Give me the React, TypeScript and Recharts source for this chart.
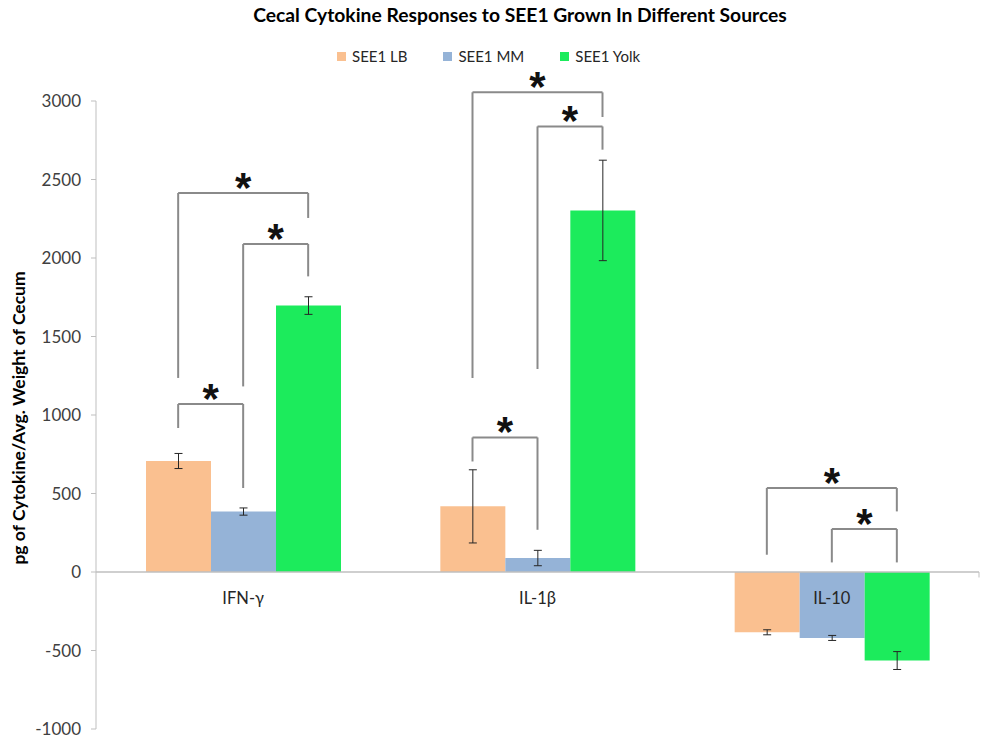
import React from "react";
import {
  Bar,
  ComposedChart,
  ErrorBar,
  ReferenceDot,
  ReferenceLine,
  XAxis,
  YAxis,
} from "recharts";

/* Cytokine levels per source (pg / avg. cecum weight) */
const categories = ["IFN-γ", "IL-1β", "IL-10"];
const lbValues = [707, 418, -384];
const mmValues = [385, 89, -420];
const yolkValues = [1697, 2303, -564];
const lbErrors = [48, 233, 16];
const mmErrors = [23, 49, 16];
const yolkErrors = [56, 320, 57];
const yTicks = [-1000, -500, 0, 500, 1000, 1500, 2000, 2500, 3000];

/* Significance brackets: category, the two series compared, height of the
   bracket and where each leg ends (all in y units) */
const brackets = [
  { cat: 0, from: 0, to: 1, top: 1070, fromEnd: 917, toEnd: 535 },
  { cat: 0, from: 1, to: 2, top: 2089, fromEnd: 1182, toEnd: 1883 },
  { cat: 0, from: 0, to: 2, top: 2414, fromEnd: 1236, toEnd: 2255 },
  { cat: 1, from: 0, to: 1, top: 857, fromEnd: 704, toEnd: 269 },
  { cat: 1, from: 1, to: 2, top: 2838, fromEnd: 1293, toEnd: 2690 },
  { cat: 1, from: 0, to: 2, top: 3055, fromEnd: 1236, toEnd: 2898 },
  { cat: 2, from: 0, to: 2, top: 535, fromEnd: 110, toEnd: 386 },
  { cat: 2, from: 1, to: 2, top: 274, fromEnd: 61, toEnd: 61 },
];

const series = [
  { key: "lb", err: "lbErr", name: "SEE1 LB", color: "#FAC090" },
  { key: "mm", err: "mmErr", name: "SEE1 MM", color: "#95B3D7" },
  { key: "yolk", err: "yolkErr", name: "SEE1 Yolk", color: "#1CEB5C" },
];

const data = categories.map((name, i) => ({
  name,
  pos: i + 0.5,
  lb: lbValues[i],
  mm: mmValues[i],
  yolk: yolkValues[i],
  lbErr: lbErrors[i],
  mmErr: mmErrors[i],
  yolkErr: yolkErrors[i],
}));

const FONT = "Lato, 'Open Sans', sans-serif";
const W = 984;
const H = 738;
const MARGIN = { top: 101, right: 5, bottom: 9, left: 0 };
const Y_AXIS_W = 96;
const BAR_SIZE = 65;
const BAND_PX = (W - MARGIN.left - MARGIN.right - Y_AXIS_W) / categories.length;

// centre of a bar on the hidden 0..3 numeric axis
const barX = (cat: number, s: number) => cat + 0.5 + ((s - 1) * BAR_SIZE) / BAND_PX;

const BRACKET = "#8a8a8a";
const AXIS = "#bfbfbf";

function Star(props: any) {
  const { viewBox } = props;
  if (!viewBox) return null;
  return (
    <text
      x={viewBox.x + viewBox.width / 2}
      y={viewBox.y + 9}
      textAnchor="middle"
      fontFamily="'Liberation Sans', Arial, sans-serif"
      fontWeight={700}
      fontSize={42}
      fill="#111"
    >
      *
    </text>
  );
}

function CatLabel(props: any) {
  const { viewBox, value } = props;
  if (!viewBox) return null;
  return (
    <text
      x={viewBox.x + (viewBox.width || 0) / 2}
      y={viewBox.y + 32}
      textAnchor="middle"
      fontFamily={FONT}
      fontSize={16.5}
      fill="#262626"
    >
      {value}
    </text>
  );
}

function YTitle(props: any) {
  const { viewBox } = props;
  if (!viewBox) return null;
  const x = viewBox.x + 18;
  const y = viewBox.y + viewBox.height / 2 + 3;
  return (
    <text
      x={x}
      y={y}
      transform={`rotate(-90, ${x}, ${y})`}
      textAnchor="middle"
      dominantBaseline="central"
      fontFamily={FONT}
      fontWeight={700}
      fontSize={17.5}
      fill="#000"
    >
      pg of Cytokine/Avg. Weight of Cecum
    </text>
  );
}

export default function App() {
  return (
    <div style={{ position: "relative", width: W, height: H, background: "#fff" }}>
      <style>{"body{margin:0}"}</style>
      <div
        style={{
          position: "absolute",
          top: 3,
          left: 520,
          transform: "translateX(-50%)",
          whiteSpace: "nowrap",
          fontFamily: FONT,
          fontWeight: 700,
          fontSize: 19.3,
          color: "#000",
        }}
      >
        Cecal Cytokine Responses to SEE1 Grown In Different Sources
      </div>
      <div
        style={{
          position: "absolute",
          top: 47,
          left: 337,
          display: "flex",
          gap: 36,
          fontFamily: FONT,
          fontSize: 15,
          color: "#262626",
          whiteSpace: "nowrap",
        }}
      >
        {series.map((s) => (
          <div key={s.key} style={{ display: "flex", alignItems: "center", gap: 6 }}>
            <span style={{ width: 9, height: 9, background: s.color, display: "inline-block" }} />
            {s.name}
          </div>
        ))}
      </div>

      <ComposedChart width={W} height={H} data={data} margin={MARGIN} barGap={0}>
        <XAxis xAxisId="cat" dataKey="name" hide />
        <XAxis
          xAxisId="n"
          dataKey="pos"
          type="number"
          domain={[0, 3]}
          hide
          allowDataOverflow
        />
        <YAxis
          domain={[-1000, 3000]}
          ticks={yTicks}
          interval={0}
          allowDataOverflow
          width={Y_AXIS_W}
          tickSize={5}
          tickMargin={10}
          axisLine={{ stroke: AXIS }}
          tickLine={{ stroke: AXIS }}
          tick={{ fill: "#404040", fontSize: 17, fontFamily: FONT }}
          label={<YTitle />}
        />

        {series.map((s) => (
          <Bar
            key={s.key}
            xAxisId="cat"
            dataKey={s.key}
            name={s.name}
            fill={s.color}
            barSize={BAR_SIZE}
            isAnimationActive={false}
          >
            <ErrorBar dataKey={s.err} width={4} stroke="#262626" strokeWidth={1} direction="y" />
          </Bar>
        ))}

        <ReferenceLine xAxisId="cat" y={0} stroke={AXIS} strokeWidth={1.5} />
        <ReferenceLine
          xAxisId="n"
          segment={[
            { x: 3, y: 0 },
            { x: 3, y: -35 },
          ]}
          stroke={AXIS}
          ifOverflow="visible"
        />

        {categories.map((c) => (
          <ReferenceDot
            key={c}
            xAxisId="cat"
            x={c}
            y={0}
            r={0}
            fill="none"
            stroke="none"
            label={<CatLabel value={c} />}
          />
        ))}

        {brackets.flatMap((b, i) => {
          const x1 = barX(b.cat, b.from);
          const x2 = barX(b.cat, b.to);
          return [
            <ReferenceLine
              key={`l${i}`}
              xAxisId="n"
              segment={[
                { x: x1, y: b.fromEnd },
                { x: x1, y: b.top },
              ]}
              stroke={BRACKET}
              strokeWidth={2}
              ifOverflow="visible"
            />,
            <ReferenceLine
              key={`t${i}`}
              xAxisId="n"
              segment={[
                { x: x1, y: b.top },
                { x: x2, y: b.top },
              ]}
              stroke={BRACKET}
              strokeWidth={2}
              ifOverflow="visible"
              label={<Star />}
            />,
            <ReferenceLine
              key={`r${i}`}
              xAxisId="n"
              segment={[
                { x: x2, y: b.top },
                { x: x2, y: b.toEnd },
              ]}
              stroke={BRACKET}
              strokeWidth={2}
              ifOverflow="visible"
            />,
          ];
        })}
      </ComposedChart>
    </div>
  );
}
